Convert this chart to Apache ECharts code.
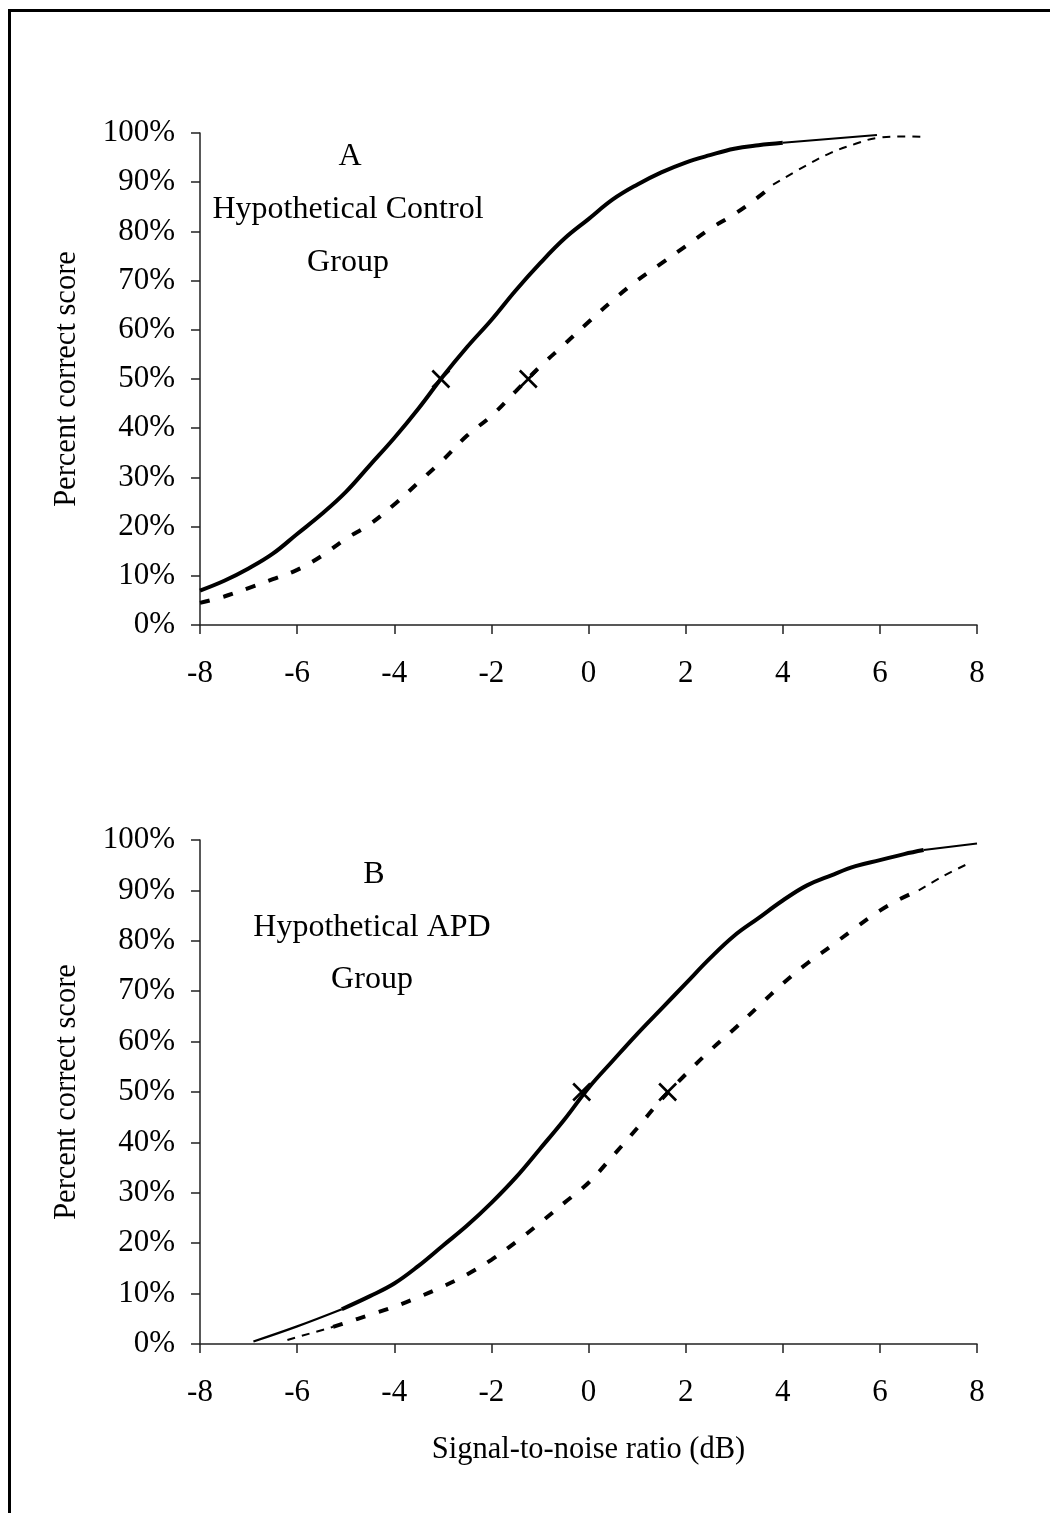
<!DOCTYPE html>
<html>
<head>
<meta charset="utf-8">
<script src="https://cdn.jsdelivr.net/npm/echarts@6/dist/echarts.min.js"></script>
<style>
html,body{margin:0;padding:0;background:#fff;}
#chart{width:1050px;height:1513px;}
</style>
</head>
<body>
<div id="chart"></div>
<script>
// ---- Data ----
const xTicks = [-8, -6, -4, -2, 0, 2, 4, 6, 8];
const yTicks = [0, 10, 20, 30, 40, 50, 60, 70, 80, 90, 100];

// Panel A: Hypothetical Control Group
const aSolidThick = [[-8,7],[-7.5,9],[-7,11.5],[-6.5,14.5],[-6,18.5],[-5.5,22.5],[-5,27],[-4.5,32.5],[-4,38],[-3.5,44],[-3,50.5],[-2.5,56.5],[-2,62],[-1.5,68],[-1,73.5],[-0.5,78.5],[0,82.5],[0.5,86.5],[1,89.5],[1.5,92],[2,94],[2.5,95.5],[3,96.8],[3.5,97.5],[4,98]];
const aSolidThin = [[4,98],[5.94,99.6]];
const aDashThick = [[-8,4.5],[-7.5,5.8],[-7,7.5],[-6.5,9.3],[-6,11.2],[-5.5,14],[-5,17.5],[-4.5,20.5],[-4,24.5],[-3.5,29],[-3,33.5],[-2.5,38.5],[-2,42.5],[-1.5,47.5],[-1,52.5],[-0.5,57],[0,61.6],[0.5,66],[1,70],[1.5,73.5],[2,77],[2.5,80.5],[3,83.5],[3.5,87],[3.8,89.5]];
const aDashThin = [[3.8,89.5],[4.5,93.5],[5,96],[5.5,97.8],[5.94,99],[6.5,99.3],[6.87,99.2]];
const aMarks = [[-3.04,50],[-1.24,50]];

// Panel B: Hypothetical APD Group
const bSolidThin = [[-6.9,0.5],[-6,3.5],[-5.08,6.9]];
const bSolidThick = [[-5.08,6.9],[-4.5,9.5],[-4,12],[-3.5,15.5],[-3,19.5],[-2.5,23.5],[-2,28],[-1.5,33],[-1,38.7],[-0.5,44.5],[0,50.8],[0.5,56.2],[1,61.5],[1.5,66.5],[2,71.5],[2.5,76.5],[3,81],[3.5,84.5],[4,88],[4.5,91],[5,93],[5.5,94.8],[6,96],[6.5,97.2],[6.9,98]];
const bSolidThin2 = [[6.9,98],[8,99.3]];
const bDashThin = [[-6.2,0.8],[-5.26,3.4]];
const bDashThick = [[-5.26,3.4],[-5,4.2],[-4.5,5.8],[-4,7.4],[-3.5,9.3],[-3,11.4],[-2.5,13.8],[-2,16.7],[-1.5,20.2],[-1,24],[-0.5,28],[0,32],[0.5,37.3],[1,42.8],[1.5,48.5],[2,53.5],[2.5,58.2],[3,62.5],[3.5,67],[4,71.5],[4.5,75.5],[5,79],[5.5,82.6],[6,86],[6.4,88.2],[6.8,90]];
const bDashThin2 = [[6.8,90],[7.3,92.8],[7.86,95.5]];
const bMarks = [[-0.14,50],[1.63,50]];

const panelTitles = [['A','Hypothetical Control','Group'],['B','Hypothetical APD','Group']];
const yTitle = 'Percent correct score';
const xTitle = 'Signal-to-noise ratio (dB)';

// ---- Chart ----
const FONT = "'Liberation Serif','Times New Roman',serif";
const chart = echarts.init(document.getElementById('chart'), null, {renderer:'canvas'});

function xAxis(gi, withName){
  return {
    type:'value', gridIndex:gi, min:xTicks[0], max:xTicks[xTicks.length-1], interval:2,
    axisLine:{show:true, onZero:false, lineStyle:{color:'#222', width:1.5}},
    axisTick:{show:true, length:9, lineStyle:{color:'#222', width:1.5}},
    axisLabel:{color:'#000', fontFamily:FONT, fontSize:31, margin:33},
    splitLine:{show:false},
    name: withName ? xTitle : '', nameLocation:'middle', nameGap:90,
    nameTextStyle:{color:'#000', fontFamily:FONT, fontSize:30.5}
  };
}
function yAxis(gi){
  return {
    type:'value', gridIndex:gi, min:yTicks[0], max:yTicks[yTicks.length-1], interval:10,
    axisLine:{show:true, onZero:false, lineStyle:{color:'#222', width:1.5}},
    axisTick:{show:true, length:9, lineStyle:{color:'#222', width:1.5}},
    axisLabel:{color:'#000', fontFamily:FONT, fontSize:31, margin:25, formatter:'{value}%'},
    splitLine:{show:false},
    name:yTitle, nameLocation:'middle', nameGap:118, nameRotate:90,
    nameTextStyle:{color:'#000', fontFamily:FONT, fontSize:30.5}
  };
}
function line(gi, data, width, type){
  return {type:'line', xAxisIndex:gi, yAxisIndex:gi, data:data, symbol:'none', smooth:0.4,
    lineStyle:{color:'#000', width:width, type:type}, silent:true, z:3};
}
function marks(gi, data){
  return {type:'scatter', xAxisIndex:gi, yAxisIndex:gi, data:data,
    symbol:'path://M0,0L10,10M10,0L0,10', symbolSize:17,
    itemStyle:{color:'none', borderColor:'#000', borderWidth:2.6, opacity:1}, silent:true, z:5};
}
function textEl(t, x, y){
  return {type:'text', x:x, y:y, style:{text:t, fill:'#000', font:'32px ' + FONT, textAlign:'center', textVerticalAlign:'middle'}};
}

chart.setOption({
  animation:false,
  backgroundColor:'#fff',
  grid:[
    {left:200, top:133, width:777, height:492},
    {left:200, top:840, width:777, height:504}
  ],
  xAxis:[xAxis(0,false), xAxis(1,true)],
  yAxis:[yAxis(0), yAxis(1)],
  series:[
    line(0, aSolidThick, 4, 'solid'),
    line(0, aSolidThin, 2, 'solid'),
    line(0, aDashThick, 4, [10,14]),
    line(0, aDashThin, 2, [8,7]),
    marks(0, aMarks),
    line(1, bSolidThin, 2.2, 'solid'),
    line(1, bSolidThick, 4, 'solid'),
    line(1, bSolidThin2, 2, 'solid'),
    line(1, bDashThin, 2, [8,7]),
    line(1, bDashThick, 4, [10,14]),
    line(1, bDashThin2, 2, [8,7]),
    marks(1, bMarks)
  ],
  graphic:[
    {type:'rect', shape:{x:9.5, y:10.5, width:1200, height:1700}, style:{fill:'none', stroke:'#000', lineWidth:3}, silent:true},
    textEl(panelTitles[0][0], 350, 157),
    textEl(panelTitles[0][1], 348, 210),
    textEl(panelTitles[0][2], 348, 263),
    textEl(panelTitles[1][0], 374, 875),
    textEl(panelTitles[1][1], 372, 928),
    textEl(panelTitles[1][2], 372, 980)
  ]
});
</script>
</body>
</html>
